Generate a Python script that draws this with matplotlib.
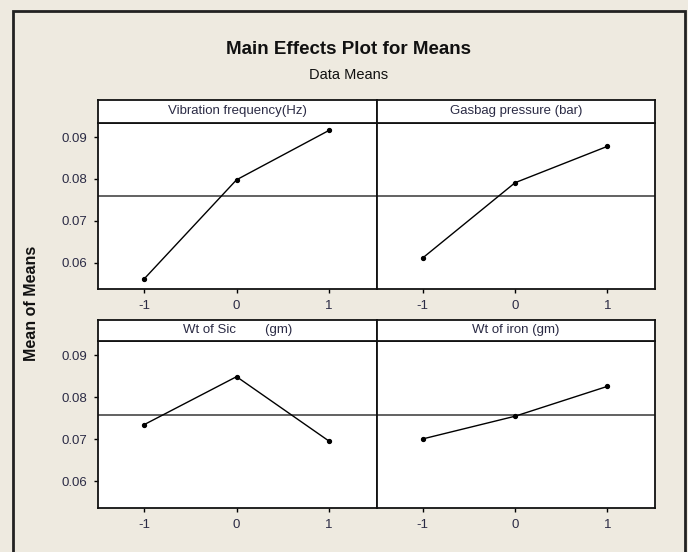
import matplotlib
matplotlib.use("Agg")
import matplotlib.pyplot as plt
from matplotlib.patches import Rectangle
from matplotlib import font_manager

# condensed face if the system has one, otherwise Liberation Sans
names = {f.name for f in font_manager.fontManager.ttflist}
narrow = [n for n in ['Liberation Sans Narrow', 'DejaVu Sans Condensed'] if n in names]
plt.rcParams['font.family'] = narrow + ['Liberation Sans', 'DejaVu Sans']

# Data
levels = [-1, 0, 1]
factor_names = ["Vibration frequency(Hz)", "Gasbag pressure (bar)",
                "Wt of Sic        (gm)", "Wt of iron (gm)"]
vibration_means = [0.0561, 0.0798, 0.0916]
gasbag_means = [0.0611, 0.0791, 0.0878]
sic_means = [0.0735, 0.0849, 0.0696]
iron_means = [0.0701, 0.0755, 0.0826]
grand_mean = 0.0759
y_ticks = [0.06, 0.07, 0.08, 0.09]
y_tick_labels = ["0.06", "0.07", "0.08", "0.09"]

series = [vibration_means, gasbag_means, sic_means, iron_means]

W, H = 688, 552
bg = '#eeeae0'
txt = '#2b2b45'

fig = plt.figure(figsize=(W / 100, H / 100), dpi=100, facecolor=bg)

# outer frame
fig.patches.append(Rectangle((13 / W, -0.05), (685 - 13) / W, 1.05 - 11 / H,
                             transform=fig.transFigure, fill=False,
                             edgecolor='#222222', linewidth=2))

fig.text(349 / W, 1 - 49 / H, "Main Effects Plot for Means", ha='center', va='center',
         fontsize=13.5, fontweight='bold', color='#111111')
fig.text(349 / W, 1 - 75 / H, "Data Means", ha='center', va='center',
         fontsize=10.5, color='#111111')
fig.text(32 / W, 1 - 303 / H, "Mean of Means", ha='center', va='center',
         rotation=90, fontsize=11.5, fontweight='bold', color='#111111')

col_x = [98, 376.5, 655]
rows = [(99.5, 122.5, 288.5), (320, 340.5, 507.5)]  # strip top, strip bottom, axes bottom

for i, means in enumerate(series):
    r, c = divmod(i, 2)
    st, sb, ab = rows[r]
    x0, x1 = col_x[c], col_x[c + 1]
    ax = fig.add_axes([x0 / W, 1 - ab / H, (x1 - x0) / W, (ab - sb) / H])
    ax.set_facecolor('white')
    ax.axhline(grand_mean, color='#555555', linewidth=1.3, zorder=1)
    ax.plot(levels, means, color='black', linewidth=1.0, marker='o',
            markersize=2.8, zorder=3)
    ax.set_xlim(-1.5, 1.515)
    ax.set_ylim(0.0538, 0.0935)
    ax.set_xticks(levels)
    ax.set_xticklabels([str(v) for v in levels])
    ax.set_yticks(y_ticks)
    ax.tick_params(direction='out', length=3, width=1, labelsize=9.5,
                   colors='black', labelcolor=txt, pad=5)
    if c == 0:
        ax.set_yticklabels(y_tick_labels)
    else:
        ax.set_yticklabels([])
        ax.tick_params(axis='y', length=0)
    for s in ax.spines.values():
        s.set_linewidth(1.3)
        s.set_color('#111111')

    sax = fig.add_axes([x0 / W, 1 - sb / H, (x1 - x0) / W, (sb - st) / H])
    sax.set_facecolor('white')
    sax.set_xticks([])
    sax.set_yticks([])
    for s in sax.spines.values():
        s.set_linewidth(1.3)
        s.set_color('#111111')
    sax.text(0.5, 0.5, factor_names[i], ha='center', va='center',
             fontsize=9.5, color=txt, transform=sax.transAxes)

fig.savefig("out.png", dpi=100, facecolor=bg)
